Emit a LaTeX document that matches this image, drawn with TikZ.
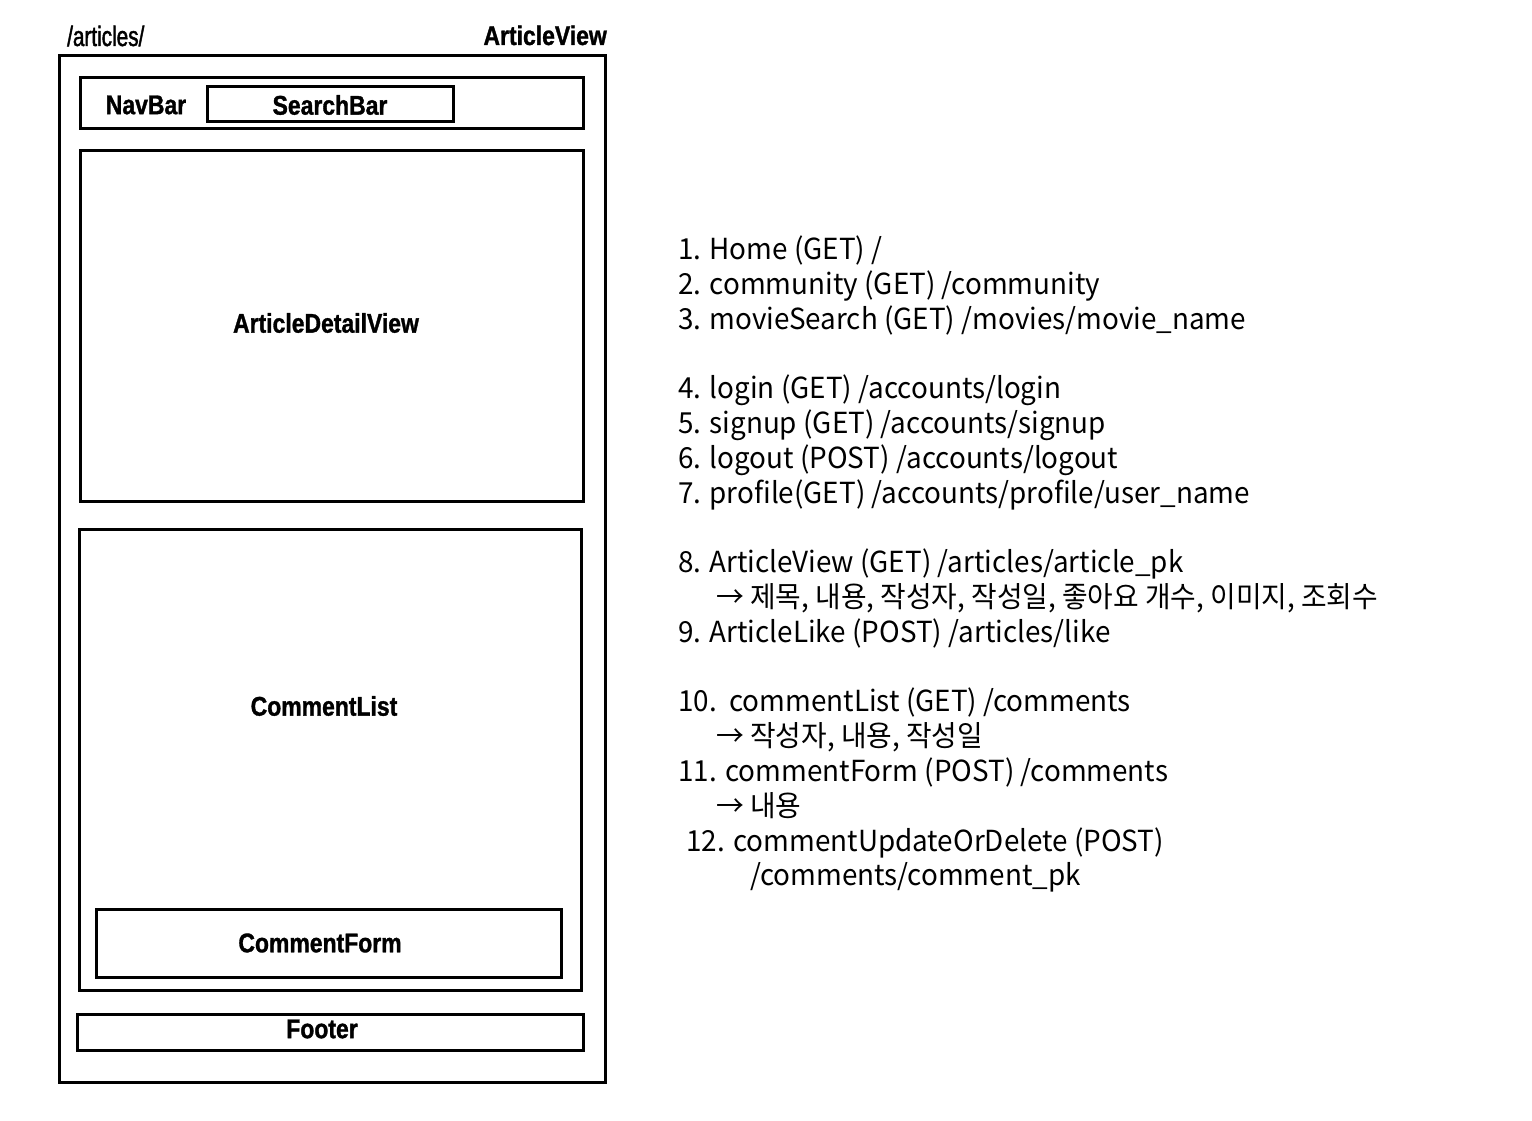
\documentclass[tikz,border=0pt]{standalone}
\usepackage{fontspec}
\usepackage{tikz}
\usetikzlibrary{positioning}
\newfontfamily\boxfont[FakeStretch=0.85,FakeBold=1.2]{Liberation Sans}
\newfontfamily\urlfont[FakeStretch=0.74,FakeBold=1.6]{Liberation Sans}
\newfontfamily\kofont[FakeStretch=0.96]{Noto Sans CJK KR}

\tikzset{
  frame/.style={draw, line width=3pt},
  boxlabel/.style={font=\boxfont\bfseries\fontsize{27}{32}\selectfont},
  route/.style={anchor=base west, inner sep=0pt, font=\kofont\fontsize{29}{35}\selectfont}
}

\begin{document}
\begin{tikzpicture}[x=1pt,y=-1pt]
  \useasboundingbox (0,0) rectangle (1532,1121);
  % page frame
  \draw[frame] (59,56) rectangle (605,1082);
  \node[anchor=base west, inner sep=0pt, font=\urlfont\fontsize{28}{32}\selectfont] (url) at (67,46) {/articles/};
  \node[boxlabel, anchor=base east, inner sep=0pt] (view) at (607,45) {ArticleView};
  % nav
  \draw[frame] (80,78) rectangle (583,129);
  \node[boxlabel] (nav) at (146,105) {NavBar};
  \draw[frame] (207,87) rectangle (453,122);
  \node[boxlabel] (search) at (330,105) {SearchBar};
  % article
  \draw[frame] (80,151) rectangle (583,501);
  \node[boxlabel] (detail) at (326,323) {ArticleDetailView};
  % comments
  \draw[frame] (79,529) rectangle (581,990);
  \node[boxlabel] (clist) at (324,706) {CommentList};
  \draw[frame] (96,909) rectangle (561,977);
  \node[boxlabel] (cform) at (320,943) {CommentForm};
  % footer
  \draw[frame] (77,1014) rectangle (583,1050);
  \node[boxlabel] (footer) at (322,1029) {Footer};

  % routes
  \foreach \yy/\xx/\txt in {
    259/678/{1. Home (GET) /},
    294/678/{2. community (GET) /community},
    329/678/{3. movieSearch (GET) /movies/movie\_name},
    398/678/{4. login (GET) /accounts/login},
    433/678/{5. signup (GET) /accounts/signup},
    468/678/{6. logout (POST) /accounts/logout},
    503/678/{7. profile(GET) /accounts/profile/user\_name},
    572/678/{8. ArticleView (GET) /articles/article\_pk},
    607/716/{→ 제목, 내용, 작성자, 작성일, 좋아요 개수, 이미지, 조회수},
    642/678/{9. ArticleLike (POST) /articles/like},
    711/678/{10.\ \ commentList (GET) /comments},
    746/716/{→ 작성자, 내용, 작성일},
    781/678/{11. commentForm (POST) /comments},
    816/716/{→ 내용},
    851/686/{12. commentUpdateOrDelete (POST)},
    885/750/{/comments/comment\_pk}}
    \node[route] (r\yy) at (\xx,\yy) {\txt};
\end{tikzpicture}
\end{document}
